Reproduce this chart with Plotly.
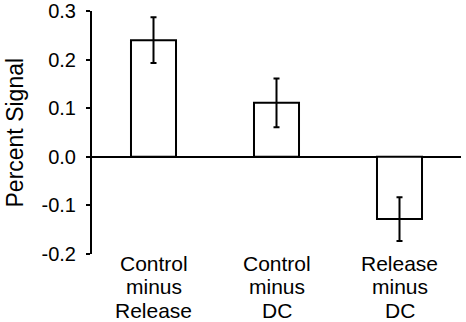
import plotly.graph_objects as go

categories = ["Control minus Release", "Control minus DC", "Release minus DC"]
label_lines = [["Control", "minus", "Release"], ["Control", "minus", "DC"], ["Release", "minus", "DC"]]
values = [0.24, 0.111, -0.128]
errors = [0.047, 0.05, 0.045]
ytick_vals = [-0.2, -0.1, 0.0, 0.1, 0.2, 0.3]
ytick_text = ["-0.2", "-0.1", "0.0", "0.1", "0.2", "0.3"]
y_title = "Percent Signal"

font_family = "Arial, Liberation Sans, sans-serif"

fig = go.Figure(go.Bar(
    x=categories, y=values,
    marker=dict(color="white", line=dict(color="black", width=2)),
    error_y=dict(type="data", array=errors, color="black", thickness=2, width=3),
    hoverinfo="skip",
))

annotations = []
for cat, lines in zip(categories, label_lines):
    for i, line in enumerate(lines):
        annotations.append(dict(
            x=cat, xref="x", y=0, yref="paper", text=line, showarrow=False,
            xanchor="center", yanchor="middle", yshift=-(9 + 23.5 * i),
            font=dict(size=21, family=font_family, color="black"),
        ))
annotations.append(dict(
    x=0, xref="paper", y=0.5, yref="paper", text=y_title, showarrow=False,
    textangle=-90, xanchor="center", yanchor="middle", xshift=-78,
    font=dict(size=23, family=font_family, color="black"),
))

fig.update_layout(
    width=466, height=322,
    margin=dict(l=92, r=5, t=11, b=68),
    paper_bgcolor="white", plot_bgcolor="white",
    bargap=0.634,
    showlegend=False,
    font=dict(family=font_family, color="black"),
    annotations=annotations,
)
fig.update_xaxes(
    showline=False, showgrid=False, ticks="", automargin=False,
    showticklabels=False,
)
fig.update_yaxes(
    range=[-0.2, 0.3], tickvals=ytick_vals, ticktext=ytick_text,
    showline=True, linecolor="black", linewidth=2,
    ticks="outside", ticklen=4, tickwidth=2, tickcolor="black",
    showgrid=False, zeroline=True, zerolinecolor="black", zerolinewidth=2,
    tickfont=dict(size=20), ticklabelstandoff=6, automargin=False,
)

fig.write_html("out.html", config={"displayModeBar": False},
               post_script="document.body.style.margin='0';")
